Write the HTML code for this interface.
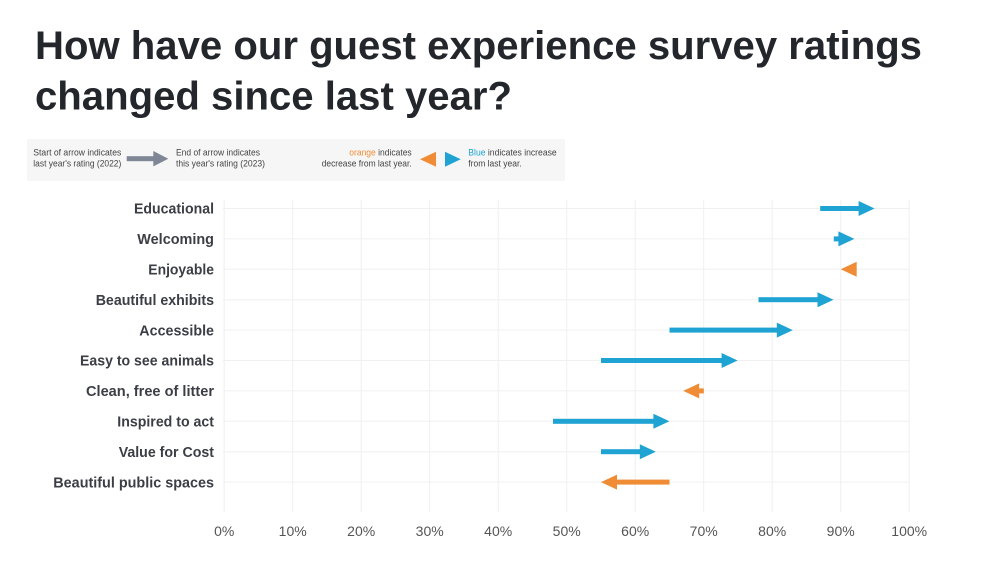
<!DOCTYPE html>
<html>
<head>
<meta charset="utf-8">
<style>
  html, body { margin: 0; padding: 0; background: #ffffff; }
  svg { display: block; }
  text { font-family: "Liberation Sans", "DejaVu Sans", sans-serif; }
</style>
</head>
<body>
<svg width="1005" height="565" viewBox="0 0 1005 565" xmlns="http://www.w3.org/2000/svg">
  <rect x="0" y="0" width="1005" height="565" fill="#ffffff"/>

  <!-- Title -->
  <text x="35" y="59" font-size="39.5" font-weight="bold" fill="#23262b" textLength="887" lengthAdjust="spacingAndGlyphs">How have our guest experience survey ratings</text>
  <text x="35" y="109.5" font-size="39.5" font-weight="bold" fill="#23262b" textLength="477" lengthAdjust="spacingAndGlyphs">changed since last year?</text>

  <!-- Legend box -->
  <rect x="27" y="139" width="538" height="42" fill="#f6f6f6"/>
  <g font-size="9" fill="#444">
    <text x="33.3" y="155.5" textLength="88" lengthAdjust="spacingAndGlyphs">Start of arrow indicates</text>
    <text x="33.3" y="166.5" textLength="88" lengthAdjust="spacingAndGlyphs">last year's rating (2022)</text>
    <text x="176" y="155.5" textLength="84" lengthAdjust="spacingAndGlyphs">End of arrow indicates</text>
    <text x="176" y="166.5" textLength="89" lengthAdjust="spacingAndGlyphs">this year's rating (2023)</text>
    <text x="349.3" y="155.5" textLength="62.4" lengthAdjust="spacingAndGlyphs"><tspan fill="#f08c35">orange</tspan> indicates</text>
    <text x="321.7" y="166.5" textLength="90" lengthAdjust="spacingAndGlyphs">decrease from last year.</text>
    <text x="468.3" y="155.5" textLength="88.4" lengthAdjust="spacingAndGlyphs"><tspan fill="#1ea3d3">Blue</tspan> indicates increase</text>
    <text x="468.3" y="166.5" textLength="53.4" lengthAdjust="spacingAndGlyphs">from last year.</text>
  </g>
  <!-- gray legend arrow -->
  <rect x="126.7" y="156.2" width="27" height="5" fill="#7f8796"/>
  <polygon points="153.3,151 168.3,158.7 153.3,166.4" fill="#7f8796"/>
  <!-- orange / blue legend triangles -->
  <polygon points="420,159.2 436,151.7 436,166.7" fill="#f08c35"/>
  <polygon points="445,151.7 460.7,159.2 445,166.7" fill="#1ea3d3"/>

  <!-- Gridlines -->
  <g stroke="#f0f0f0" stroke-width="1">
    <line x1="224.2" y1="200" x2="224.2" y2="512"/>
    <line x1="292.7" y1="200" x2="292.7" y2="512"/>
    <line x1="361.2" y1="200" x2="361.2" y2="512"/>
    <line x1="429.7" y1="200" x2="429.7" y2="512"/>
    <line x1="498.2" y1="200" x2="498.2" y2="512"/>
    <line x1="566.7" y1="200" x2="566.7" y2="512"/>
    <line x1="635.2" y1="200" x2="635.2" y2="512"/>
    <line x1="703.7" y1="200" x2="703.7" y2="512"/>
    <line x1="772.2" y1="200" x2="772.2" y2="512"/>
    <line x1="840.7" y1="200" x2="840.7" y2="512"/>
    <line x1="909.2" y1="200" x2="909.2" y2="512"/>

    <line x1="223" y1="208.5" x2="909" y2="208.5"/>
    <line x1="223" y1="238.9" x2="909" y2="238.9"/>
    <line x1="223" y1="269.3" x2="909" y2="269.3"/>
    <line x1="223" y1="299.7" x2="909" y2="299.7"/>
    <line x1="223" y1="330.1" x2="909" y2="330.1"/>
    <line x1="223" y1="360.5" x2="909" y2="360.5"/>
    <line x1="223" y1="390.9" x2="909" y2="390.9"/>
    <line x1="223" y1="421.3" x2="909" y2="421.3"/>
    <line x1="223" y1="451.7" x2="909" y2="451.7"/>
    <line x1="223" y1="482.1" x2="909" y2="482.1"/>
  </g>

  <!-- Category labels -->
  <g font-size="14.5" font-weight="bold" fill="#3b3e45" text-anchor="end">
    <text x="214" y="213.7" textLength="80" lengthAdjust="spacingAndGlyphs">Educational</text>
    <text x="214" y="244.1" textLength="76.7" lengthAdjust="spacingAndGlyphs">Welcoming</text>
    <text x="214" y="274.5" textLength="65.7" lengthAdjust="spacingAndGlyphs">Enjoyable</text>
    <text x="214" y="304.9" textLength="118.3" lengthAdjust="spacingAndGlyphs">Beautiful exhibits</text>
    <text x="214" y="335.3" textLength="74.7" lengthAdjust="spacingAndGlyphs">Accessible</text>
    <text x="214" y="365.7" textLength="134" lengthAdjust="spacingAndGlyphs">Easy to see animals</text>
    <text x="214" y="396.1" textLength="128" lengthAdjust="spacingAndGlyphs">Clean, free of litter</text>
    <text x="214" y="426.5" textLength="96.7" lengthAdjust="spacingAndGlyphs">Inspired to act</text>
    <text x="214" y="456.9" textLength="95.3" lengthAdjust="spacingAndGlyphs">Value for Cost</text>
    <text x="214" y="487.3" textLength="160.7" lengthAdjust="spacingAndGlyphs">Beautiful public spaces</text>
  </g>

  <!-- X axis labels -->
  <g font-size="14" fill="#555555" text-anchor="middle">
    <text x="224.2" y="536">0%</text>
    <text x="292.7" y="536">10%</text>
    <text x="361.2" y="536">20%</text>
    <text x="429.7" y="536">30%</text>
    <text x="498.2" y="536">40%</text>
    <text x="566.7" y="536">50%</text>
    <text x="635.2" y="536">60%</text>
    <text x="703.7" y="536">70%</text>
    <text x="772.2" y="536">80%</text>
    <text x="840.7" y="536">90%</text>
    <text x="909.2" y="536">100%</text>
  </g>

  <!-- Arrows (x = 224.2 + 6.85*v) -->
  <g fill="#1ea3d3">
    <rect x="820.2" y="206" width="38.8" height="5"/>
    <polygon points="858.6,201 874.6,208.5 858.6,216"/>
    <rect x="833.8" y="236.4" width="5" height="5"/>
    <polygon points="838.4,231.4 854.4,238.9 838.4,246.4"/>
    <rect x="758.5" y="297.2" width="59.4" height="5"/>
    <polygon points="817.5,292.2 833.5,299.7 817.5,307.2"/>
    <rect x="669.5" y="327.6" width="107.5" height="5"/>
    <polygon points="776.8,322.6 792.8,330.1 776.8,337.6"/>
    <rect x="601" y="358" width="121" height="5"/>
    <polygon points="721.6,353 737.6,360.5 721.6,368"/>
    <rect x="553" y="418.8" width="100.8" height="5"/>
    <polygon points="653.4,413.8 669.4,421.3 653.4,428.8"/>
    <rect x="601" y="449.2" width="39.2" height="5"/>
    <polygon points="639.8,444.2 655.8,451.7 639.8,459.2"/>
  </g>
  <g fill="#f08c35">
    <polygon points="840.7,269.3 856.7,261.8 856.7,276.8"/>
    <rect x="698.8" y="388.4" width="5" height="5"/>
    <polygon points="683.2,390.9 699.2,383.4 699.2,398.4"/>
    <rect x="616.6" y="479.6" width="52.9" height="5"/>
    <polygon points="601,482.1 617,474.6 617,489.6"/>
  </g>
</svg>
</body>
</html>
